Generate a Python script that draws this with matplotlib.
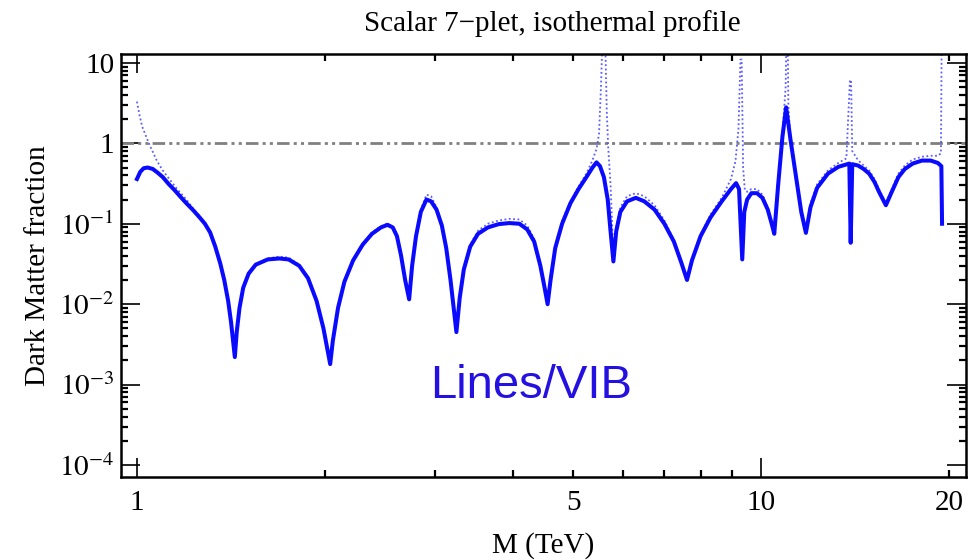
import numpy as np
import matplotlib
matplotlib.use('Agg')
import matplotlib.pyplot as plt
from matplotlib.ticker import NullFormatter

# solid curve: dark matter fraction vs mass (TeV)
mass = [1.000, 1.012, 1.025, 1.040, 1.06, 1.08, 1.10, 1.125, 1.15, 1.175, 1.20, 1.23,
        1.26, 1.285, 1.31, 1.335, 1.36, 1.38, 1.40, 1.415, 1.435, 1.445, 1.46, 1.48,
        1.51, 1.55, 1.62, 1.69, 1.75, 1.82, 1.88, 1.94, 1.99, 2.04, 2.06, 2.10,
        2.15, 2.22, 2.30, 2.38, 2.46, 2.52, 2.57, 2.61, 2.65, 2.69, 2.73, 2.76,
        2.80, 2.85, 2.91, 2.96, 3.02, 3.08, 3.13, 3.18, 3.25, 3.29, 3.34, 3.42,
        3.52, 3.65, 3.80, 3.95, 4.10, 4.22, 4.33, 4.43, 4.50, 4.55, 4.60, 4.68,
        4.80, 4.95, 5.10, 5.25, 5.37, 5.45, 5.52, 5.60, 5.68, 5.74, 5.80, 5.86,
        5.95, 6.10, 6.30, 6.50, 6.75, 7.00, 7.25, 7.45, 7.61, 7.75, 8.00, 8.30,
        8.65, 8.95, 9.12, 9.22, 9.33, 9.40, 9.50, 9.65, 9.85, 10.05, 10.25, 10.40,
        10.50, 10.65, 10.82, 10.97, 11.15, 11.4, 11.6, 11.8, 12.0, 12.3, 12.8, 13.3,
        13.85, 13.92, 14.0, 14.3, 14.6, 14.9, 15.2, 15.45, 15.85, 16.2, 16.6, 17.0,
        17.5, 18.1, 18.7, 19.2, 19.45, 19.5]
frac = [0.36, 0.44, 0.49, 0.50, 0.48, 0.43, 0.38, 0.31, 0.26, 0.215, 0.18, 0.148,
        0.12, 0.10, 0.078, 0.052, 0.032, 0.020, 0.011, 0.006, 0.0022, 0.0045, 0.009, 0.016,
        0.024, 0.031, 0.036, 0.037, 0.036, 0.030, 0.021, 0.011, 0.005, 0.0018, 0.0035, 0.009,
        0.019, 0.035, 0.055, 0.075, 0.090, 0.097, 0.090, 0.070, 0.040, 0.020, 0.0115, 0.030,
        0.070, 0.14, 0.20, 0.19, 0.15, 0.095, 0.050, 0.020, 0.0045, 0.012, 0.027, 0.052,
        0.075, 0.090, 0.099, 0.102, 0.10, 0.085, 0.060, 0.030, 0.016, 0.010, 0.020, 0.050,
        0.10, 0.18, 0.27, 0.38, 0.50, 0.58, 0.52, 0.38, 0.20, 0.08, 0.034, 0.08,
        0.14, 0.19, 0.21, 0.19, 0.15, 0.10, 0.06, 0.033, 0.020, 0.035, 0.07, 0.12,
        0.19, 0.27, 0.32, 0.27, 0.036, 0.14, 0.20, 0.24, 0.24, 0.21, 0.15, 0.10,
        0.075, 0.30, 1.2, 2.8, 1.1, 0.35, 0.14, 0.077, 0.16, 0.28, 0.42, 0.51,
        0.56, 0.058, 0.55, 0.53, 0.48, 0.42, 0.33, 0.25, 0.17, 0.25, 0.38, 0.48,
        0.56, 0.61, 0.61, 0.57, 0.52, 0.10]

# dotted curve (with resonance spikes)
mass_dot = [1.000, 1.01, 1.02, 1.045, 1.077, 1.10, 1.13, 1.16, 1.20, 1.23, 1.26, 1.285,
            1.31, 1.335, 1.36, 1.38, 1.40, 1.415, 1.435, 1.445, 1.46, 1.48, 1.51, 1.55,
            1.62, 1.69, 1.75, 1.82, 1.88, 1.94, 1.99, 2.04, 2.06, 2.10, 2.15, 2.22,
            2.30, 2.38, 2.46, 2.52, 2.57, 2.61, 2.65, 2.69, 2.73, 2.76, 2.80, 2.85,
            2.91, 2.96, 3.02, 3.08, 3.13, 3.18, 3.25, 3.29, 3.34, 3.42, 3.52, 3.65,
            3.80, 3.95, 4.10, 4.22, 4.33, 4.43, 4.50, 4.55, 4.60, 4.68, 4.80, 4.95,
            5.10, 5.25, 5.37, 5.45, 5.50, 5.54, 5.58, 5.62, 5.66, 5.69, 5.74, 5.80,
            5.86, 5.95, 6.10, 6.30, 6.50, 6.75, 7.00, 7.25, 7.45, 7.61, 7.75, 8.00,
            8.30, 8.65, 8.95, 9.10, 9.20, 9.27, 9.31, 9.36, 9.42, 9.50, 9.65, 9.85,
            10.05, 10.25, 10.40, 10.50, 10.65, 10.82, 10.95, 10.99, 11.03, 11.06, 11.15, 11.4,
            11.6, 11.8, 12.0, 12.3, 12.8, 13.3, 13.7, 13.88, 13.94, 14.0, 14.3, 14.6,
            14.9, 15.2, 15.45, 15.85, 16.2, 16.6, 17.0, 17.5, 18.1, 18.7, 19.2, 19.42,
            19.48, 19.55]
frac_dot = [3.3, 2.2, 1.6, 1.0, 0.60, 0.46, 0.35, 0.27, 0.20, 0.155, 0.125, 0.10,
            0.078, 0.052, 0.032, 0.020, 0.011, 0.006, 0.0022, 0.0045, 0.009, 0.016, 0.024, 0.031,
            0.037, 0.039, 0.038, 0.031, 0.021, 0.011, 0.005, 0.0018, 0.0035, 0.009, 0.019, 0.036,
            0.057, 0.078, 0.093, 0.10, 0.094, 0.072, 0.040, 0.020, 0.0115, 0.030, 0.072, 0.15,
            0.23, 0.22, 0.16, 0.10, 0.052, 0.020, 0.0045, 0.012, 0.028, 0.055, 0.082, 0.10,
            0.11, 0.115, 0.113, 0.095, 0.065, 0.030, 0.016, 0.010, 0.020, 0.052, 0.11, 0.19,
            0.29, 0.42, 0.62, 0.85, 1.3, 5.0, 30, 30, 2.5, 0.9, 0.30, 0.04,
            0.09, 0.16, 0.22, 0.24, 0.22, 0.17, 0.11, 0.063, 0.034, 0.020, 0.036, 0.073,
            0.13, 0.21, 0.36, 0.6, 1.5, 11, 11, 0.5, 0.26, 0.25, 0.27, 0.27,
            0.23, 0.16, 0.10, 0.078, 0.32, 1.3, 5.0, 30, 30, 3.0, 1.1, 0.36,
            0.15, 0.08, 0.18, 0.31, 0.46, 0.57, 0.65, 6.1, 6.1, 0.8, 0.62, 0.53,
            0.46, 0.36, 0.27, 0.18, 0.27, 0.42, 0.53, 0.63, 0.68, 0.70, 0.70, 0.75,
            30, 30]

yticks = [1e-4, 1e-3, 1e-2, 1e-1, 1, 10]
ylabels = [r'$10^{-4}$', r'$10^{-3}$', r'$10^{-2}$', r'$10^{-1}$', '1', '10']
xminor = [2, 3, 4, 5, 6, 7, 8, 9, 20]
xminor_labels = ['', '', '', '5', '', '', '', '', '20']

plt.rcParams['font.family'] = ['Liberation Serif', 'DejaVu Serif']
plt.rcParams['mathtext.fontset'] = 'stix'

fig = plt.figure(figsize=(9.8, 5.6), dpi=100)
ax = fig.add_axes([0.1235, 0.148, 0.8622, 0.7556])

ax.axhline(1.0, color='#808080', lw=2.0, dashes=[4.5, 1.5, 1.1, 1.5, 1.1, 1.5])
ax.plot(mass_dot, frac_dot, color='#4040ff', lw=1.3, linestyle=(0, (1, 1.4)), alpha=0.85)
ax.plot(mass, frac, color='#0a0aff', lw=2.9, solid_joinstyle='round')

ax.set_xscale('log')
ax.set_yscale('log')
ax.set_xlim(0.943, 21.3)
ax.set_ylim(7.08e-5, 12.9)

ax.set_xticks([1, 10], labels=['1', '10'])
ax.set_xticks(xminor, labels=xminor_labels, minor=True)
ax.set_yticks(yticks, labels=ylabels)
ax.set_yticks([m * d for d in [1e-4, 1e-3, 1e-2, 1e-1, 1] for m in range(2, 10)], minor=True)
ax.yaxis.set_minor_formatter(NullFormatter())

ax.tick_params(which='both', direction='in', top=True, right=True, labelsize=21)
ax.tick_params(which='major', length=14, width=1.2)
ax.tick_params(which='minor', length=5, width=1.6)
ax.tick_params(axis='x', which='both', pad=9)
ax.tick_params(axis='y', which='both', pad=5)
for s in ax.spines.values():
    s.set_linewidth(1.8)

ax.set_xlabel('M (TeV)', fontsize=21, labelpad=12)
ax.set_ylabel('Dark Matter fraction', fontsize=21, labelpad=6)
fig.text(0.564, 0.958, 'Scalar 7\u2212plet, isothermal profile', fontsize=21,
         ha='center', va='center')
ax.text(0.485, 0.215, 'Lines/VIB', transform=ax.transAxes, fontsize=34,
        color='#2410e0', ha='center', va='center', family=['Liberation Sans', 'DejaVu Sans'])

fig.savefig('out.png', dpi=100)
